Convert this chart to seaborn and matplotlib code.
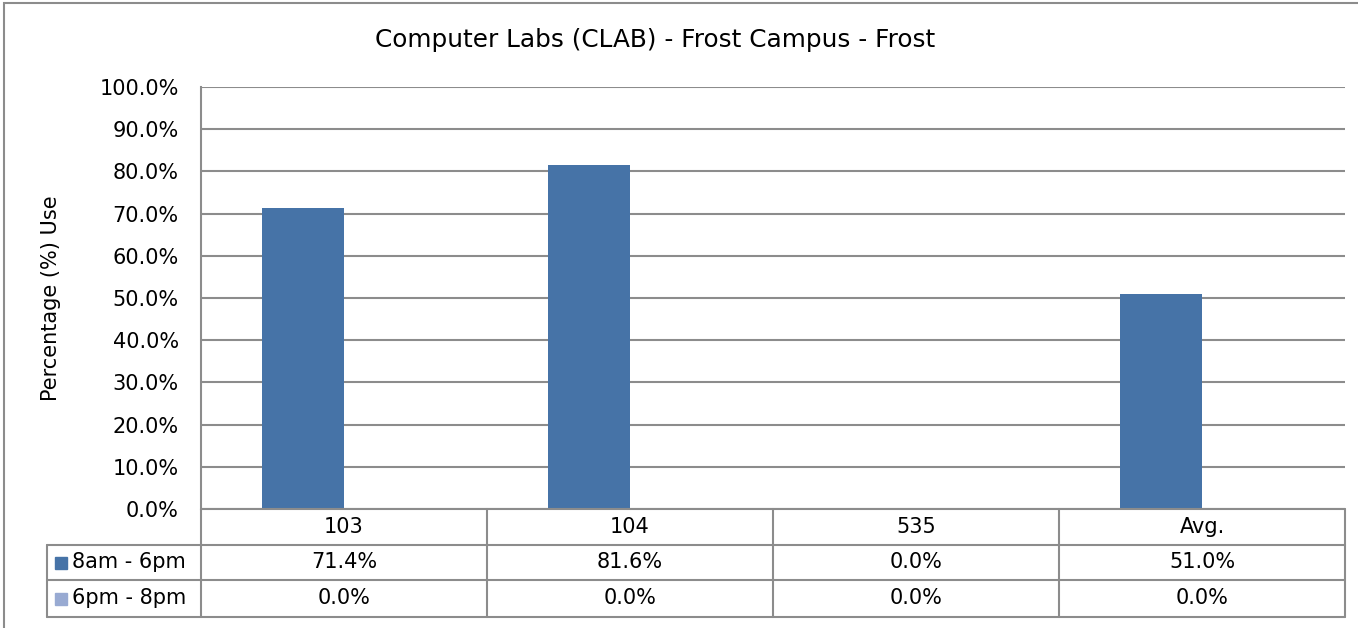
import matplotlib
matplotlib.use("Agg")
import matplotlib.pyplot as plt
import matplotlib.transforms as mtransforms
from matplotlib.patches import Rectangle
import seaborn as sns
import pandas as pd

title = "Computer Labs (CLAB) - Frost Campus - Frost"
ylabel = "Percentage (%) Use"
categories = ["103", "104", "535", "Avg."]
series_names = ["8am - 6pm", "6pm - 8pm"]
series_day = [71.4, 81.6, 0.0, 51.0]
series_evening = [0.0, 0.0, 0.0, 0.0]
colors = ["#4673A7", "#98AAD2"]
yticks = [0, 10, 20, 30, 40, 50, 60, 70, 80, 90, 100]

sns.set_theme(style="white")
plt.rcParams["font.family"] = ["DejaVu Sans"]
plt.rcParams["text.color"] = "black"

df = pd.DataFrame({
    "room": categories * 2,
    "value": series_day + series_evening,
    "series": [series_names[0]] * len(categories) + [series_names[1]] * len(categories),
})

W, H = 1358, 628
fig = plt.figure(figsize=(W / 100, H / 100), dpi=100)
L, R, T, B = 201, 1345, 87, 509
ax = fig.add_axes([L / W, 1 - B / H, (R - L) / W, (B - T) / H])

sns.barplot(data=df, x="room", y="value", hue="series", order=categories,
            hue_order=series_names, palette=colors, width=0.5714, gap=0,
            dodge=True, legend=False, ax=ax, saturation=1, linewidth=0)

grid_c = "#8C8C8C"
lw = 1.5
ax.set_ylim(0, 100)
ax.set_xlim(-0.5, len(categories) - 0.5)
ax.set_yticks(yticks)
ax.set_yticklabels([f"{v:.1f}%" for v in yticks], fontsize=15, color="black")
ax.yaxis.grid(True, color=grid_c, linewidth=lw)
ax.set_axisbelow(True)
ax.tick_params(axis="y", length=0, pad=16)
ax.set_xticks([])
ax.set_xlabel("")
ax.set_ylabel(ylabel, fontsize=15, color="black")
ax.yaxis.set_label_coords((61 - L) / (R - L), 0.5)
for s in ["top", "right", "bottom"]:
    ax.spines[s].set_visible(False)
ax.spines["left"].set_color(grid_c)
ax.spines["left"].set_linewidth(lw)

fig.text(655 / W, 1 - 40 / H, title, ha="center", va="center", fontsize=17.8, color="black")

# data table below the axes
ph = B - T
trans = mtransforms.blended_transform_factory(ax.transData, ax.transAxes)
rows_px = [0, 36, 71, 108]
ys = [-p / ph for p in rows_px]
x_leg = -0.5 - (L - 47) / (R - L) * len(categories)
xr = len(categories) - 0.5
ax.plot([-0.5, xr], [ys[0], ys[0]], transform=trans, color=grid_c, lw=lw, clip_on=False)
for y in ys[1:]:
    ax.plot([x_leg, xr], [y, y], transform=trans, color=grid_c, lw=lw, clip_on=False)
ax.plot([-0.5, -0.5], [ys[0], ys[3]], transform=trans, color=grid_c, lw=lw, clip_on=False)
ax.plot([x_leg, x_leg], [ys[1], ys[3]], transform=trans, color=grid_c, lw=lw, clip_on=False)
for i in range(len(categories)):
    xb = i + 0.5
    ax.plot([xb, xb], [ys[0], ys[3]], transform=trans, color=grid_c, lw=lw, clip_on=False)

def mid(a, b):
    return (a + b) / 2

fs_tab = 15
for i, c in enumerate(categories):
    ax.text(i, mid(ys[0], ys[1]), c, transform=trans, ha="center", va="center",
            fontsize=fs_tab, color="black")
    ax.text(i, mid(ys[1], ys[2]), f"{series_day[i]:.1f}%", transform=trans,
            ha="center", va="center", fontsize=fs_tab, color="black")
    ax.text(i, mid(ys[2], ys[3]), f"{series_evening[i]:.1f}%", transform=trans,
            ha="center", va="center", fontsize=fs_tab, color="black")

key_x = x_leg + (61 - 47) / (R - L) * len(categories)
txt_x = x_leg + (72 - 47) / (R - L) * len(categories)
for j, name in enumerate(series_names):
    yc = mid(ys[j + 1], ys[j + 2])
    ax.plot([key_x], [yc], marker="s", markersize=9, color=colors[j], transform=trans,
            clip_on=False, linestyle="none")
    ax.text(txt_x, yc, name, transform=trans, ha="left", va="center",
            fontsize=fs_tab, color="black")

# outer chart frame
fig.patches.append(Rectangle((4 / W, -0.05), (W + 20) / W, 1.05 - 3 / H,
                             transform=fig.transFigure, fill=False,
                             edgecolor="#8C8C8C", linewidth=1.5))

fig.savefig("out.png", dpi=100)
